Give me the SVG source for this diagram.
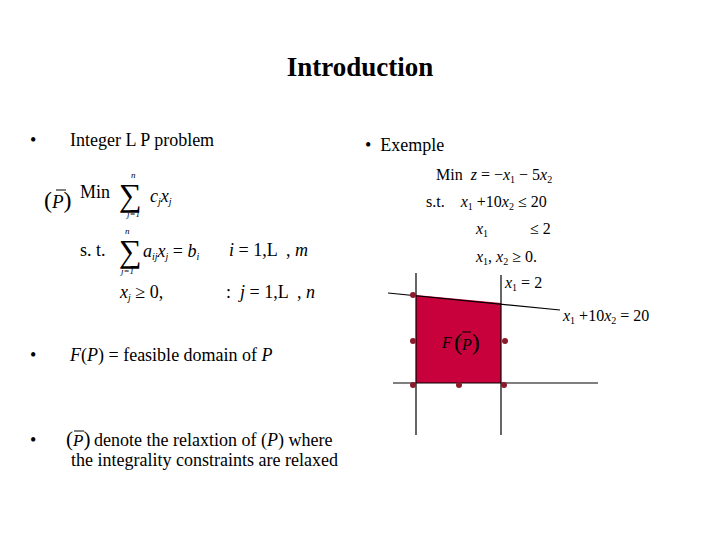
<svg xmlns="http://www.w3.org/2000/svg" width="720" height="540" viewBox="0 0 720 540">
<style>
text{white-space:pre}
.t{font-family:"Liberation Serif",serif;fill:#000}
.i{font-style:italic}
.l{stroke:#000;stroke-width:1.2;fill:none}
.d{fill:#8b1a2b}
</style>
<rect width="720" height="540" fill="#fff"/>
<text class="t" x="360" y="76" font-size="27" font-weight="bold" text-anchor="middle">Introduction</text>
<g id="left" class="t" font-size="18">
<text x="30" y="146">•</text><text x="70" y="146">Integer L P problem</text>
<text x="44" y="208" font-size="24">(<tspan class="i" font-size="19">P</tspan>)</text>
<line x1="56" y1="190" x2="66" y2="190" stroke="#000"/>
<text x="80" y="198">Min</text>
<text x="119" y="206" font-size="32">∑</text>
<text x="131" y="178" font-size="9" class="i">n</text>
<text x="127" y="217" font-size="9" class="i">j=1</text>
<text x="150" y="202" class="i">c<tspan font-size="10" dy="3">j</tspan><tspan dy="-3">x</tspan><tspan font-size="10" dy="3">j</tspan></text>
<text x="80" y="256">s. t.</text>
<text x="119" y="262" font-size="32">∑</text>
<text x="125" y="234" font-size="9" class="i">n</text>
<text x="121" y="274" font-size="9" class="i">j=1</text>
<text x="143" y="257" class="i">a<tspan font-size="10" dy="3">ij</tspan><tspan dy="-3">x</tspan><tspan font-size="10" dy="3">j</tspan><tspan dy="-3" font-style="normal"> = </tspan>b<tspan font-size="10" dy="3">i</tspan></text>
<text x="229" y="256"><tspan class="i">i</tspan> = 1,L  , <tspan class="i">m</tspan></text>
<text x="120" y="298"><tspan class="i">x</tspan><tspan font-size="10" dy="3" class="i">j</tspan><tspan dy="-3"> ≥ 0,</tspan></text>
<text x="226" y="298">:  <tspan class="i">j</tspan> = 1,L  , <tspan class="i">n</tspan></text>
<text x="30" y="361">•</text><text x="70" y="361"><tspan class="i">F</tspan>(<tspan class="i">P</tspan>) = feasible domain of <tspan class="i">P</tspan></text>
<text x="30" y="446">•</text>
<text x="66" y="446" font-size="21">(<tspan class="i" font-size="17">P</tspan>)</text>
<line x1="74" y1="431" x2="84" y2="431" stroke="#000"/>
<text x="94" y="446">denote the relaxtion of (<tspan class="i">P</tspan>) where</text>
<text x="71" y="466">the integrality constraints are relaxed</text>
</g>
<g id="right" class="t" font-size="18">
<text x="365" y="151">•  Exemple</text>
<text x="436" y="180" font-size="16">Min  <tspan class="i">z</tspan> = −<tspan class="i">x</tspan><tspan font-size="10" dy="3">1</tspan><tspan dy="-3"> − 5</tspan><tspan class="i">x</tspan><tspan font-size="10" dy="3">2</tspan></text>
<text x="426" y="207" font-size="16">s.t.    <tspan class="i">x</tspan><tspan font-size="10" dy="3">1</tspan><tspan dy="-3"> +10</tspan><tspan class="i">x</tspan><tspan font-size="10" dy="3">2</tspan><tspan dy="-3"> ≤ 20</tspan></text>
<text x="476" y="234" font-size="16" class="i">x<tspan font-size="10" dy="3" font-style="normal">1</tspan></text>
<text x="530" y="234" font-size="16">≤ 2</text>
<text x="476" y="262" font-size="16"><tspan class="i">x</tspan><tspan font-size="10" dy="3">1</tspan><tspan dy="-3">, </tspan><tspan class="i">x</tspan><tspan font-size="10" dy="3">2</tspan><tspan dy="-3"> ≥ 0.</tspan></text>
</g>
<g id="graph">
<polygon points="416,295 501,303 501,383 416,383" fill="#c8003c"/>
<line class="l" x1="393" y1="383" x2="598" y2="383"/>
<line class="l" x1="416" y1="273" x2="416" y2="435"/>
<line class="l" x1="501" y1="275" x2="501" y2="435"/>
<line class="l" x1="388" y1="293" x2="560" y2="310"/>
<circle class="d" cx="413" cy="295" r="3"/><circle class="d" cx="413" cy="341" r="3"/>
<circle class="d" cx="413" cy="385" r="3"/><circle class="d" cx="459" cy="385" r="3"/>
<circle class="d" cx="505" cy="341" r="3"/><circle class="d" cx="504" cy="385" r="3"/>
<circle class="d" cx="459" cy="340" r="3"/>
<text class="t" x="505" y="288" font-size="16"><tspan class="i">x</tspan><tspan font-size="10" dy="3">1</tspan><tspan dy="-3"> = 2</tspan></text>
<text class="t" x="563" y="321" font-size="16"><tspan class="i">x</tspan><tspan font-size="10" dy="3">1</tspan><tspan dy="-3"> +10</tspan><tspan class="i">x</tspan><tspan font-size="10" dy="3">2</tspan><tspan dy="-3"> = 20</tspan></text>
<text class="t i" x="442" y="348" font-size="16">F</text>
<text class="t" x="454" y="350" font-size="24">(<tspan class="i" font-size="16">P</tspan>)</text>
<line x1="462" y1="332" x2="471" y2="332" stroke="#000"/>
</g>
</svg>
